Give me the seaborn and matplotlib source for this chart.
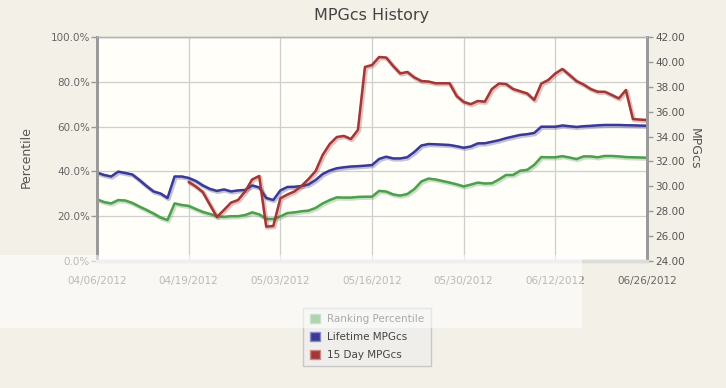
import numpy as np
import matplotlib
matplotlib.use("Agg")
import matplotlib.pyplot as plt
import matplotlib.patheffects as pe
from matplotlib.patches import Patch, Rectangle
import seaborn as sns

# tick labels on the category axis (one every 13 points)
date_labels = ["04/06/2012", "04/19/2012", "05/03/2012", "05/16/2012",
               "05/30/2012", "06/12/2012", "06/26/2012"]

# left axis: ranking percentile (%)
ranking_pct = [27.5, 26.3, 25.7, 27.2, 27.0, 25.9, 24.3, 22.8, 21.2, 19.4,
               18.3, 25.7, 25.0, 24.6, 23.2, 21.9, 21.0, 20.0, 19.7, 20.0,
               20.0, 20.5, 21.7, 20.8, 18.8, 18.8, 19.9, 21.4, 21.7, 22.2,
               22.5, 23.7, 25.7, 27.2, 28.4, 28.3, 28.3, 28.6, 28.7, 28.7,
               31.3, 31.0, 29.7, 29.2, 29.9, 32.1, 35.5, 36.8, 36.4, 35.7,
               35.0, 34.2, 33.3, 34.1, 35.0, 34.6, 34.7, 36.4, 38.4, 38.4,
               40.3, 40.7, 42.9, 46.4, 46.3, 46.3, 46.8, 46.2, 45.5, 46.7,
               46.7, 46.3, 46.9, 46.9, 46.7, 46.4, 46.3, 46.2, 46.1]

# right axis: lifetime MPGcs
lifetime_mpg = [31.10, 30.91, 30.79, 31.18, 31.07, 30.95, 30.51, 30.03, 29.59, 29.42,
                29.06, 30.79, 30.79, 30.67, 30.43, 30.07, 29.79, 29.63, 29.75, 29.59,
                29.67, 29.71, 30.07, 29.91, 29.06, 28.90, 29.67, 29.95, 29.96, 30.03,
                30.15, 30.51, 30.99, 31.27, 31.45, 31.53, 31.59, 31.62, 31.66, 31.71,
                32.20, 32.38, 32.24, 32.24, 32.34, 32.76, 33.28, 33.40, 33.38, 33.35,
                33.32, 33.22, 33.10, 33.20, 33.45, 33.46, 33.58, 33.70, 33.87, 34.00,
                34.13, 34.19, 34.29, 34.79, 34.79, 34.79, 34.89, 34.83, 34.77, 34.83,
                34.86, 34.90, 34.93, 34.93, 34.93, 34.91, 34.90, 34.88, 34.87]

# right axis: 15 day MPGcs (no values for the first 13 points)
day15_mpg = [np.nan] * 13 + [
                30.35, 29.99, 29.54, 28.54, 27.54, 28.10, 28.69,
                28.90, 29.59, 30.55, 30.83, 26.76, 26.81, 29.04, 29.34, 29.59, 30.03,
                30.59, 31.23, 32.52, 33.40, 33.96, 34.05, 33.80, 34.53, 39.59, 39.75,
                40.39, 40.35, 39.67, 39.07, 39.19, 38.75, 38.46, 38.42, 38.28, 38.28,
                38.28, 37.26, 36.78, 36.60, 36.86, 36.80, 37.82, 38.26, 38.22, 37.82,
                37.64, 37.46, 36.94, 38.25, 38.55, 39.07, 39.43, 38.95, 38.46, 38.18,
                37.82, 37.60, 37.60, 37.34, 37.06, 37.74, 35.41, 35.36, 35.33]

GREEN = "#4d9e4d"
BLUE = "#3a3a96"
RED = "#a33636"
BG = "#f2f0e7"

sns.set_style("white", rc={"axes.facecolor": "#fffef9", "figure.facecolor": BG})
plt.rcParams["font.family"] = ["DejaVu Sans"]

x = np.arange(len(ranking_pct))

fig = plt.figure(figsize=(7.26, 3.88), dpi=100)
ax = fig.add_axes([97 / 726, 127 / 388, 550 / 726, 224 / 388])
ax2 = ax.twinx()


def shadow(color):
    return [pe.SimpleLineShadow(offset=(0.8, -0.8), shadow_color=color, alpha=0.3, linewidth=3.0),
            pe.Normal()]


sns.lineplot(x=x, y=ranking_pct, ax=ax, color=GREEN, linewidth=1.8)
ax.lines[-1].set_path_effects(shadow(GREEN))
sns.lineplot(x=x, y=lifetime_mpg, ax=ax2, color=BLUE, linewidth=1.8)
ax2.lines[-1].set_path_effects(shadow(BLUE))
sns.lineplot(x=x, y=day15_mpg, ax=ax2, color=RED, linewidth=1.8)
ax2.lines[-1].set_path_effects(shadow(RED))

ax.set_xlim(0, len(x) - 1)
ax.set_ylim(0, 100)
ax2.set_ylim(24, 42)

ax.set_xticks(np.arange(0, len(x), 13))
ax.set_xticklabels(date_labels)
ax.set_yticks(np.arange(0, 101, 20))
ax.set_yticklabels([f"{v:.1f}%" for v in np.arange(0, 101, 20)])
ax2.set_yticks(np.arange(24, 43, 2))
ax2.set_yticklabels([f"{v:.2f}" for v in np.arange(24, 43, 2)])

ax.grid(True, color="#cfcfcf", linewidth=0.9)
ax.set_axisbelow(True)

ax.tick_params(axis="x", length=0, pad=11, labelsize=7.5, labelcolor="#666666")
ax.tick_params(axis="y", left=True, length=4, width=1, color="#999999", pad=1,
               labelsize=7.5, labelcolor="#666666")
ax2.tick_params(axis="y", right=True, length=4, width=1, color="#999999", pad=2,
                labelsize=7.5, labelcolor="#555555")

for a in (ax, ax2):
    a.spines["left"].set_color("#9a9a9a")
    a.spines["left"].set_linewidth(2)
    a.spines["right"].set_color("#9a9a9a")
    a.spines["right"].set_linewidth(2)
    a.spines["top"].set_color("#b5b5b5")
    a.spines["top"].set_linewidth(1)
    a.spines["bottom"].set_color("#dcdcdc")
    a.spines["bottom"].set_linewidth(2.5)

ax.set_ylabel("Percentile", fontsize=9, color="#555555")
ax.yaxis.set_label_coords(-0.116, 0.465)
ax2.set_ylabel("MPGcs", fontsize=9, color="#555555", rotation=270, va="center")
ax2.yaxis.set_label_coords(1.085, 0.5)
ax.set_title("MPGcs History", fontsize=11.5, color="#444444", pad=12)

handles = [Patch(facecolor=GREEN, edgecolor="#88bb88", label="Ranking Percentile"),
           Patch(facecolor=BLUE, edgecolor="#8888cc", label="Lifetime MPGcs"),
           Patch(facecolor=RED, edgecolor="#cc8888", label="15 Day MPGcs")]
leg = fig.legend(handles=handles, loc="center", bbox_to_anchor=(367 / 726, 1 - 337 / 388),
                 fontsize=7.5, frameon=True, fancybox=False, handlelength=1.0,
                 handleheight=1.0, handletextpad=0.7, labelspacing=0.75,
                 borderpad=0.6, borderaxespad=0)
leg.get_frame().set_facecolor("#efeeeb")
leg.get_frame().set_edgecolor("#c8c8c8")
leg.get_frame().set_alpha(1)
for t in leg.get_texts():
    t.set_color("#444444")

# pale translucent band across the lower part of the picture
fig.patches.append(Rectangle((0, 1 - 328 / 388), 582 / 726, 73 / 388,
                             transform=fig.transFigure, facecolor="white",
                             alpha=0.55, edgecolor="none", zorder=10))

fig.savefig("out.png", dpi=100)
